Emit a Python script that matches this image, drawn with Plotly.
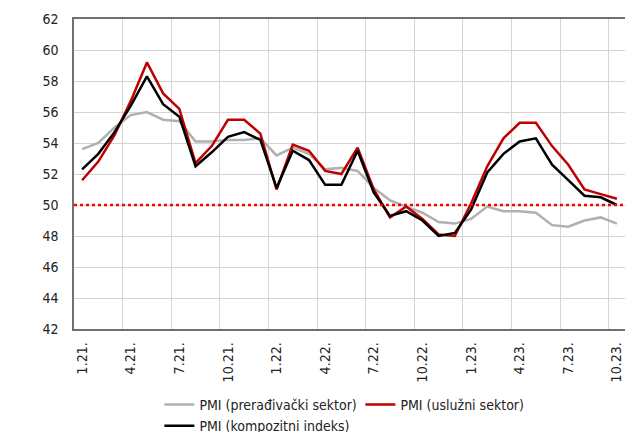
import plotly.graph_objects as go

months = ["1.21.", "2.21.", "3.21.", "4.21.", "5.21.", "6.21.", "7.21.", "8.21.", "9.21.", "10.21.", "11.21.", "12.21.",
          "1.22.", "2.22.", "3.22.", "4.22.", "5.22.", "6.22.", "7.22.", "8.22.", "9.22.", "10.22.", "11.22.", "12.22.",
          "1.23.", "2.23.", "3.23.", "4.23.", "5.23.", "6.23.", "7.23.", "8.23.", "9.23.", "10.23."]

manufacturing = [53.6, 54.0, 55.0, 55.8, 56.0, 55.5, 55.4, 54.1, 54.1, 54.2, 54.2, 54.3,
                 53.2, 53.7, 53.3, 52.3, 52.4, 52.2, 51.1, 50.3, 49.9, 49.5, 48.9, 48.8,
                 49.1, 49.9, 49.6, 49.6, 49.5, 48.7, 48.6, 49.0, 49.2, 48.8]
services = [51.6, 52.8, 54.5, 56.7, 59.2, 57.2, 56.2, 52.7, 53.8, 55.5, 55.5, 54.6,
            51.0, 53.9, 53.5, 52.2, 52.0, 53.7, 51.0, 49.2, 49.9, 49.1, 48.1, 48.0,
            50.1, 52.5, 54.3, 55.3, 55.3, 53.8, 52.6, 51.0, 50.7, 50.4]
composite = [52.3, 53.3, 54.7, 56.4, 58.3, 56.5, 55.7, 52.5, 53.4, 54.4, 54.7, 54.2,
             51.1, 53.5, 52.9, 51.3, 51.3, 53.5, 50.8, 49.3, 49.6, 49.0, 48.0, 48.2,
             49.7, 52.1, 53.3, 54.1, 54.3, 52.6, 51.6, 50.6, 50.5, 50.0]
threshold = 50

x = list(range(len(months)))
tick_idx = list(range(0, len(months), 3))
tick_text = [months[i] for i in tick_idx]
grid_vals = [i + 2.5 for i in range(0, len(months) - 3, 3)]

FONT = "DejaVu Sans Condensed, Liberation Sans Narrow, Arial Narrow, sans-serif"

fig = go.Figure()
fig.add_trace(go.Scatter(x=x, y=manufacturing, mode="lines", name="PMI (prerađivački sektor)",
                         line=dict(color="#b0b0b0", width=2.5)))
fig.add_trace(go.Scatter(x=x, y=services, mode="lines", name="PMI (uslužni sektor)",
                         line=dict(color="#c00000", width=2.5)))
fig.add_trace(go.Scatter(x=x, y=composite, mode="lines", name="PMI (kompozitni indeks)",
                         line=dict(color="#000000", width=2.5)))

fig.add_shape(type="line", xref="paper", yref="y", x0=0, x1=1, y0=threshold, y1=threshold,
              line=dict(color="#ff0000", width=2.5, dash="dot"), layer="above")
fig.add_shape(type="line", xref="paper", yref="paper", x0=-0.111, x1=1.0, y0=1.048, y1=1.048,
              line=dict(color="#555555", width=1.5))

# page body has an 8px default margin, so the figure is sized to the visible area
fig.update_layout(
    template="none",
    width=625, height=424,
    margin=dict(l=66, r=8, t=11, b=103, autoexpand=False),
    paper_bgcolor="white", plot_bgcolor="white",
    font=dict(family=FONT, size=14, color="#222222"),
    showlegend=True,
    legend=dict(orientation="h", x=0.155, xanchor="left", y=-0.193, yanchor="top",
                font=dict(family=FONT, size=14, color="#222222"),
                entrywidth=156, tracegroupgap=0, itemwidth=30, bgcolor="rgba(0,0,0,0)"),
    xaxis=dict(range=[-0.5, len(months) - 0.5], tickmode="array", tickvals=tick_idx, ticktext=tick_text,
               tickangle=-90, showgrid=False, zeroline=False, showline=True, linecolor="#707070",
               linewidth=1.5, mirror=True, ticks="", automargin=False, ticklabelstandoff=6,
               minor=dict(tickvals=grid_vals, showgrid=True, gridcolor="#d4d4d4", gridwidth=1, ticks="")),
    yaxis=dict(range=[42, 62], tickmode="linear", tick0=42, dtick=2, showgrid=True, gridcolor="#d4d4d4",
               gridwidth=1, zeroline=False, showline=True, linecolor="#707070", linewidth=1.5, mirror=True,
               ticks="", ticklabelstandoff=11, automargin=False),
)

fig.write_html("out.html")
